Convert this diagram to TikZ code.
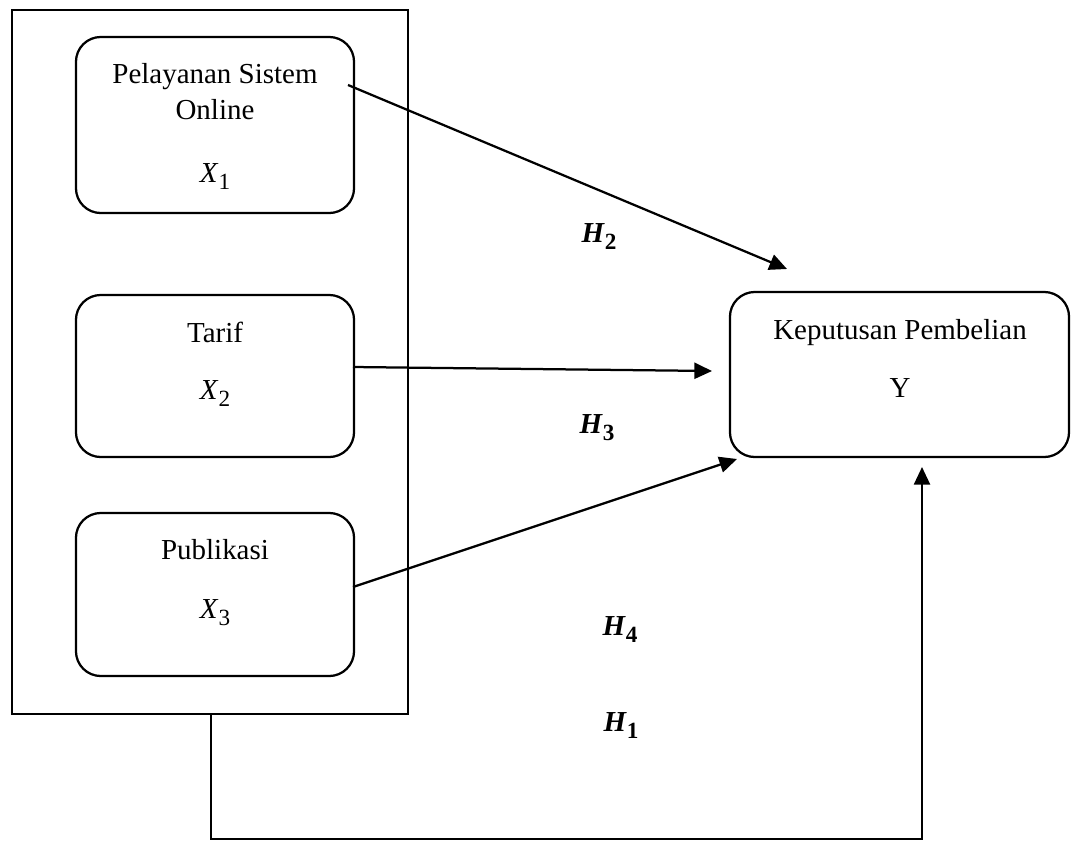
\documentclass[tikz,border=0pt]{standalone}
\usepackage{fontspec}
\setmainfont{Liberation Serif}
\usetikzlibrary{arrows.meta}
\newcommand{\vsub}[2]{\textit{#1}\raisebox{-0.25em}{\fontsize{16.5}{18}\selectfont #2}}
\newcommand{\hsub}[2]{\textbf{\textit{#1}}\raisebox{-0.25em}{\fontsize{16.5}{18}\selectfont\bfseries #2}}
\begin{document}
\begin{tikzpicture}[x=0.025cm,y=-0.025cm,
  every node/.style={font=\fontsize{20.6}{24}\selectfont, inner sep=0pt, outer sep=0pt},
  varbox/.style={draw, line width=1.6pt, rounded corners=0.62cm},
  frame/.style={draw, line width=1.6pt},
  txt/.style={anchor=base},
  conn/.style={line width=1.6pt, -{Triangle[length=0.44cm,width=0.4cm]}}]
\useasboundingbox (0,0) rectangle (1072,842);
% outer frame
\node[frame, minimum width=9.9cm, minimum height=17.6cm] (outer) at (210,362) {};
% left boxes
\node[varbox, minimum width=6.95cm, minimum height=4.4cm] (b1) at (215,125) {};
\node[varbox, minimum width=6.95cm, minimum height=4.05cm] (b2) at (215,376) {};
\node[varbox, minimum width=6.95cm, minimum height=4.075cm] (b3) at (215,594.5) {};
% right box
\node[varbox, minimum width=8.475cm, minimum height=4.125cm] (by) at (899.5,374.5) {};
% texts
\node[txt] (t1a) at (215,83) {Pelayanan Sistem};
\node[txt] (t1b) at (215,119) {Online};
\node[txt] (t1c) at (215,182) {\vsub{X}{1}};
\node[txt] (t2a) at (215,342) {Tarif};
\node[txt] (t2b) at (215,399) {\vsub{X}{2}};
\node[txt] (t3a) at (215,559) {Publikasi};
\node[txt] (t3b) at (215,618) {\vsub{X}{3}};
\node[txt] (tya) at (900,339) {Keputusan Pembelian};
\node[txt] (tyb) at (900,397) {Y};
% hypothesis labels
\node[txt] (h2) at (599,242) {\hsub{H}{2}};
\node[txt] (h3) at (597,433) {\hsub{H}{3}};
\node[txt] (h4) at (620,635) {\hsub{H}{4}};
\node[txt] (h1) at (621,731) {\hsub{H}{1}};
% connector endpoints
\coordinate (s2) at (348,85);
\coordinate (e2) at (787,269);
\coordinate (s3) at (353,367);
\coordinate (e3) at (712,371);
\coordinate (s4) at (353,587);
\coordinate (e4) at (737,459);
\coordinate (s1) at (211,714);
\coordinate (c1) at (211,839);
\coordinate (c2) at (922,839);
\coordinate (e1) at (922,467);
% connectors
\draw[conn] (s2) -- (e2);
\draw[conn] (s3) -- (e3);
\draw[conn] (s4) -- (e4);
\draw[conn] (s1) -- (c1) -- (c2) -- (e1);
\end{tikzpicture}
\end{document}
